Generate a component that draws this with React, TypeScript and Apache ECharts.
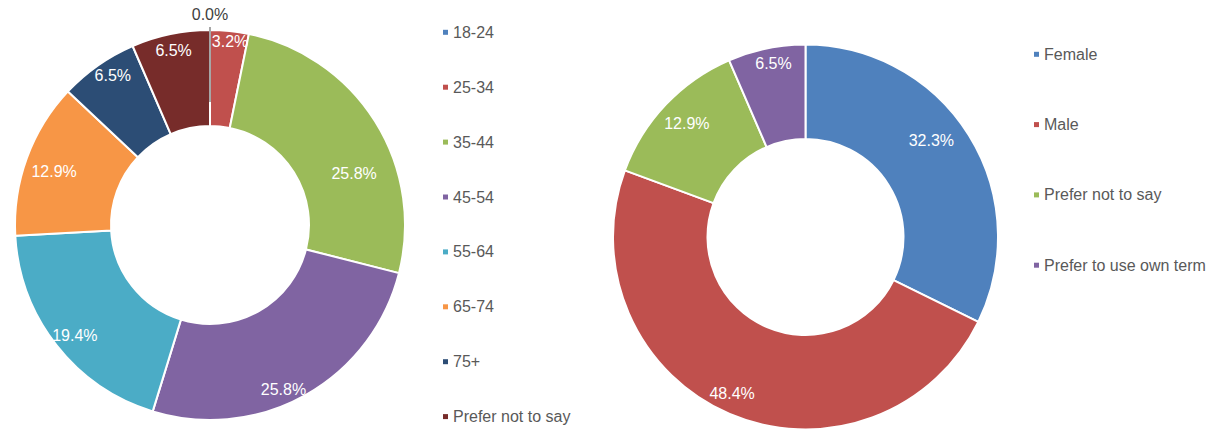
import React, { useEffect, useRef } from "react";
import * as echarts from "echarts";

// ---- Data ----
const ageCategories = ["18-24", "25-34", "35-44", "45-54", "55-64", "65-74", "75+", "Prefer not to say"];
const agePercents = [0.0, 3.2, 25.8, 25.8, 19.4, 12.9, 6.5, 6.5];
const genderCategories = ["Female", "Male", "Prefer not to say", "Prefer to use own term"];
const genderPercents = [32.3, 48.4, 12.9, 6.5];

// ---- Styles ----
const ageColors = ["#4F81BD", "#C0504D", "#9BBB59", "#8064A2", "#4BACC6", "#F79646", "#2C4D75", "#772C2A"];
const genderColors = ["#4F81BD", "#C0504D", "#9BBB59", "#8064A2"];
// label nudges (Excel "best fit" placement)
const ageLabelShift = [[0, 0], [5, -34], [17, 28], [0, 34], [-17, 18], [-15, -2], [-11, -27], [-6, -28]];
const genderLabelShift = [[0, -18], [-15, 20], [-11, -12], [-2, -28]];

const FONT = "'Liberation Sans', Arial, Helvetica, sans-serif";

export default function App() {
  const ref = useRef<HTMLDivElement>(null);
  useEffect(() => {
    document.body.style.margin = "0";
    if (!ref.current) return;
    const chart = echarts.init(ref.current, null, { renderer: "svg" });
    const fmt = (p: any) => `${Number(p.value).toFixed(1)}%`;
    const baseLabel = {
      show: true,
      position: "inside",
      color: "#FFFFFF",
      fontSize: 16,
      fontFamily: FONT,
      formatter: fmt,
    };
    const legendBase = {
      orient: "vertical",
      padding: 0,
      itemWidth: 5,
      itemHeight: 5,
      icon: "rect",
      selectedMode: false,
      itemStyle: { borderWidth: 0 },
      textStyle: { color: "#595959", fontSize: 16, lineHeight: 16, fontFamily: FONT },
    };
    const ageCenter = [210, 225];
    const ageRadius = [99, 195];
    chart.setOption({
      animation: false,
      legend: [
        {
          ...legendBase,
          left: 443,
          top: 24.3,
          itemGap: 38.9,
          data: ageCategories.map((n, i) => ({ name: n, itemStyle: { color: ageColors[i], borderWidth: 0 } })),
        },
        {
          ...legendBase,
          left: 1034,
          top: 46.3,
          itemGap: 54.3,
          data: genderCategories.map((n, i) => ({ name: n, itemStyle: { color: genderColors[i], borderWidth: 0 } })),
        },
      ],
      series: [
        {
          type: "pie",
          z: 2,
          center: ageCenter,
          radius: ageRadius,
          startAngle: 90,
          clockwise: true,
          avoidLabelOverlap: false,
          itemStyle: { borderColor: "#FFFFFF", borderWidth: 2 },
          label: baseLabel,
          labelLine: { show: false },
          emphasis: { disabled: true },
          labelLayout: (p: any) => ({ dx: ageLabelShift[p.dataIndex][0], dy: ageLabelShift[p.dataIndex][1] }),
          data: ageCategories.map((n, i) => ({
            name: n,
            value: agePercents[i],
            itemStyle: { color: ageColors[i] },
            label: agePercents[i] === 0 ? { show: false } : undefined,
          })),
        },
        {
          // overlay: outside label + leader line of the zero-value slice, drawn above the ring
          type: "pie",
          z: 5,
          silent: true,
          legendHoverLink: false,
          center: ageCenter,
          radius: ageRadius,
          startAngle: 90,
          clockwise: true,
          avoidLabelOverlap: false,
          itemStyle: { color: "rgba(0,0,0,0)", borderWidth: 0 },
          label: { show: false },
          labelLine: { show: false },
          emphasis: { disabled: true },
          labelLayout: (p: any) => {
            if (agePercents[p.dataIndex] === 0 && p.labelLinePoints) {
              const [x0, y0] = p.labelLinePoints[0];
              return {
                x: x0,
                y: y0 - 15.5,
                align: "center",
                verticalAlign: "middle",
                labelLinePoints: [[x0, y0 + 72], [x0, y0 - 3], [x0, y0 - 3]],
              };
            }
            return {};
          },
          data: ageCategories.map((n, i) => {
            const item: any = { name: n, value: agePercents[i] };
            if (agePercents[i] === 0) {
              item.label = {
                show: true,
                position: "outside",
                color: "#404040",
                fontSize: 16,
                fontFamily: FONT,
                formatter: fmt,
              };
              item.labelLine = {
                show: true,
                showAbove: true,
                length: 3,
                length2: 0,
                lineStyle: { color: "#A6A6A6", width: 2 },
              };
            }
            return item;
          }),
        },
        {
          type: "pie",
          center: [805.5, 237],
          radius: [98, 192.5],
          startAngle: 90,
          clockwise: true,
          avoidLabelOverlap: false,
          itemStyle: { borderColor: "#FFFFFF", borderWidth: 2 },
          label: baseLabel,
          labelLine: { show: false },
          emphasis: { disabled: true },
          labelLayout: (p: any) => ({ dx: genderLabelShift[p.dataIndex][0], dy: genderLabelShift[p.dataIndex][1] }),
          data: genderCategories.map((n, i) => ({ name: n, value: genderPercents[i], itemStyle: { color: genderColors[i] } })),
        },
      ],
    });
    return () => chart.dispose();
  }, []);
  return <div ref={ref} style={{ width: 1210, height: 429 }} />;
}
